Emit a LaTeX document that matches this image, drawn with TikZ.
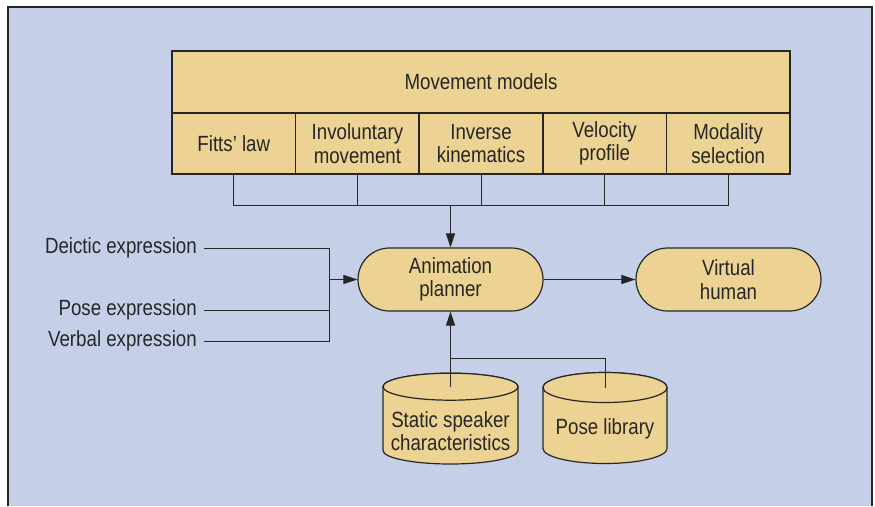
\documentclass[tikz,border=0pt]{standalone}
\usepackage{fontspec}
\setmainfont{Liberation Sans}[FakeStretch=0.85]
\usetikzlibrary{arrows.meta}
\definecolor{panelblue}{RGB}{197,208,232}
\definecolor{boxtan}{RGB}{237,211,147}
\definecolor{ink}{RGB}{38,38,38}
\tikzset{
  box/.style={draw=ink, line width=1.6pt, fill=boxtan, inner sep=0pt, align=center, text=ink},
  subbox/.style={box, minimum width=123.6pt, minimum height=61pt},
  pill/.style={draw=ink, line width=1.2pt, fill=boxtan, minimum width=185pt, minimum height=63pt, rounded corners=31.5pt, align=center, text=ink, inner sep=0pt},
  conn/.style={draw=ink, line width=1pt},
  arr/.style={conn, -{Triangle[length=14pt,width=9pt]}},
  inlabel/.style={anchor=base east, inner xsep=7pt, inner ysep=0pt, text=ink},
  cyl/.style={draw=ink, line width=1.2pt, fill=boxtan},
  cyltext/.style={align=center, text=ink, inner sep=0pt}
}
\begin{document}
\begin{tikzpicture}[x=1pt,y=-1pt,font=\fontsize{22}{23.5}\selectfont]
\useasboundingbox (0,0) rectangle (875,506);
\fill[white] (0,0) rectangle (875,506);
\fill[panelblue] (8,7) rectangle (872,506);
\draw[ink, line width=1.5pt] (8,506) -- (8,7) -- (872,7) -- (872,506);

% movement models
\node[box, minimum width=618pt, minimum height=62pt] (mm) at (481,82) {Movement models};
\node[subbox] (fl) at (233.8,143.5) {Fitts' law};
\node[subbox] (im) at (357.4,143.5) {Involuntary\\movement};
\node[subbox] (ik) at (481,143.5) {Inverse\\kinematics};
\node[subbox] (vp) at (604.6,143.5) {Velocity\\profile};
\node[subbox] (ms) at (728.2,143.5) {Modality\\selection};

% planner and virtual human
\node[pill] (ap) at (450.5,279.5) {Animation\\planner};
\node[pill] (vh) at (728.5,279.5) {Virtual\\human};

% bus
\coordinate (bus) at (450.5,205);
\draw[conn] (fl.south) -- (fl.south |- bus) -- (ms.south |- bus) -- (ms.south);
\draw[conn] (im.south) -- (im.south |- bus);
\draw[conn] (ik.south) -- (ik.south |- bus);
\draw[conn] (vp.south) -- (vp.south |- bus);
\draw[arr] (bus) -- (ap.north);
\draw[arr] (ap.east) -- (vh.west);

% inputs
\node[inlabel] (de) at (204,253.5) {Deictic expression};
\node[inlabel] (pe) at (204,315.5) {Pose expression};
\node[inlabel] (ve) at (204,346.5) {Verbal expression};
\coordinate (jin) at (329,279.5);
\draw[conn] ([yshift=5.5pt]de.base east) -| (jin);
\draw[conn] ([yshift=5.5pt]pe.base east) -| (jin);
\draw[conn] ([yshift=5.5pt]ve.base east) -| (jin);
\draw[arr] (jin) -- (ap.west);

% cylinders
\coordinate (sctop) at (450.5,386.7);
\coordinate (scbot) at (450.5,450.5);
\filldraw[cyl] ([xshift=-67.5pt]sctop) -- ([xshift=-67.5pt]scbot)
  arc[start angle=180,end angle=360,x radius=67.5pt,y radius=13.5pt]
  -- ([xshift=67.5pt]sctop)
  arc[start angle=0,end angle=180,x radius=67.5pt,y radius=13.5pt] -- cycle;
\draw[cyl] (sctop) ellipse[x radius=67.5pt,y radius=13.5pt];
\node[cyltext] (sc) at (450.5,431) {Static speaker\\characteristics};

\coordinate (pltop) at (605,387.5);
\coordinate (plbot) at (605,448.5);
\filldraw[cyl] ([xshift=-62pt]pltop) -- ([xshift=-62pt]plbot)
  arc[start angle=180,end angle=360,x radius=62pt,y radius=15pt]
  -- ([xshift=62pt]pltop)
  arc[start angle=0,end angle=180,x radius=62pt,y radius=15pt] -- cycle;
\draw[cyl] (pltop) ellipse[x radius=62pt,y radius=15pt];
\node[cyltext] (pl) at (605,429) {Pose library};

\coordinate (jb) at (450.5,358);
\draw[conn] (pltop) -- (pltop |- jb) -- (jb);
\draw[arr] (sctop) -- (ap.south);
\end{tikzpicture}
\end{document}
